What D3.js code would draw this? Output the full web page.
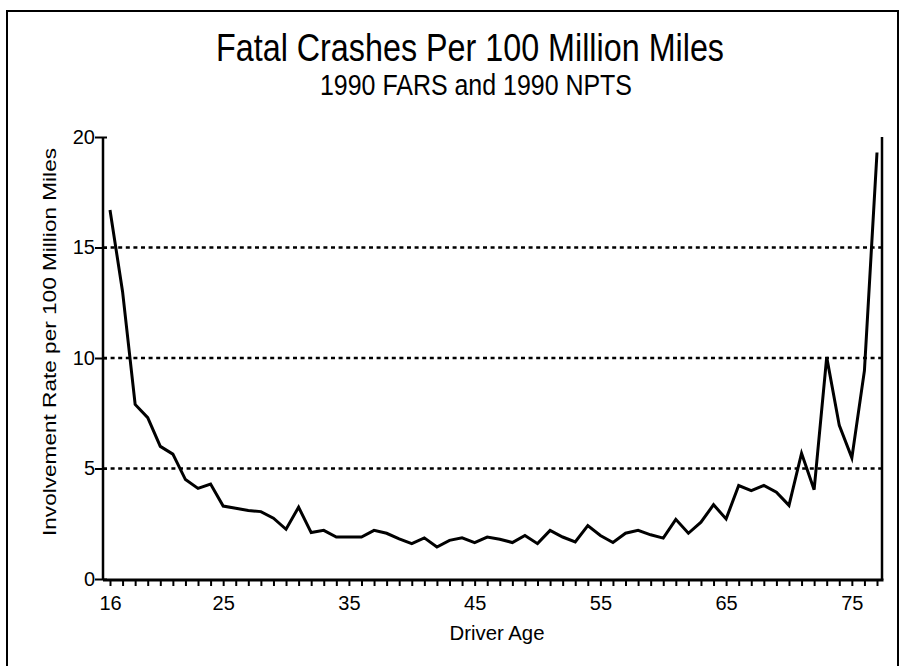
<!DOCTYPE html>
<html>
<head>
<meta charset="utf-8">
<script src="https://cdn.jsdelivr.net/npm/d3@7"></script>
<style>
  body { margin: 0; background: #fff; }
  svg { display: block; font-family: "Liberation Sans", Arial, sans-serif; }
  .axis path, .axis line { stroke: #000; }
  .axis text { fill: #000; font-size: 20px; }
</style>
</head>
<body>
<script>
// data
var ages = [16, 17, 18, 19, 20, 21, 22, 23, 24, 25, 26, 27, 28, 29, 30, 31, 32, 33, 34, 35,
            36, 37, 38, 39, 40, 41, 42, 43, 44, 45, 46, 47, 48, 49, 50, 51, 52, 53, 54, 55,
            56, 57, 58, 59, 60, 61, 62, 63, 64, 65, 66, 67, 68, 69, 70, 71, 72, 73, 74, 75,
            76, 77];
var rates = [16.7, 13.0, 7.9, 7.3, 6.0, 5.65, 4.5, 4.1, 4.3, 3.3, 3.2, 3.1, 3.05, 2.75, 2.25, 3.25, 2.1, 2.2, 1.9, 1.9,
             1.9, 2.2, 2.07, 1.82, 1.6, 1.86, 1.45, 1.75, 1.86, 1.65, 1.9, 1.8, 1.65, 1.97, 1.6, 2.2, 1.9, 1.68, 2.42, 1.97,
             1.65, 2.07, 2.2, 2.0, 1.85, 2.7, 2.07, 2.57, 3.36, 2.72, 4.23, 4.0, 4.23, 3.93, 3.33, 5.69, 4.04, 10.04, 6.95, 5.48,
             9.43, 19.3];
var xTickLabels = [16, 25, 35, 45, 55, 65, 75];
var yTicks = [0, 5, 10, 15, 20];
var gridLines = [5, 10, 15];

var title = "Fatal Crashes Per 100 Million Miles";
var subtitle = "1990 FARS and 1990 NPTS";
var xTitle = "Driver Age";
var yTitle = "Involvement Rate per 100 Million Miles";

var dataset = ages.map(function(a, i) { return { age: a, rate: rates[i] }; });

var W = 905, H = 666;
var plot = { left: 103, right: 882, top: 137, bottom: 580 };

var svg = d3.select("body").append("svg")
    .attr("width", W)
    .attr("height", H);

// outer frame
svg.append("rect")
    .attr("x", 7).attr("y", 11)
    .attr("width", 891).attr("height", 700)
    .attr("fill", "none")
    .attr("stroke", "#000")
    .attr("stroke-width", 2);

// scales
var xScale = d3.scaleLinear()
    .domain([16, 77])
    .range([110, 877]);

var yScale = d3.scaleLinear()
    .domain([0, 20])
    .range([579, 137]);

// titles
svg.append("text")
    .attr("x", 470).attr("y", 61)
    .attr("text-anchor", "middle")
    .attr("font-size", 38)
    .attr("textLength", 508)
    .attr("lengthAdjust", "spacingAndGlyphs")
    .text(title);

svg.append("text")
    .attr("x", 476).attr("y", 95)
    .attr("text-anchor", "middle")
    .attr("font-size", 29)
    .attr("textLength", 312)
    .attr("lengthAdjust", "spacingAndGlyphs")
    .text(subtitle);

// dashed grid lines
svg.selectAll(".grid")
    .data(gridLines)
  .enter().append("line")
    .attr("class", "grid")
    .attr("x1", plot.left).attr("x2", plot.right)
    .attr("y1", function(d) { return yScale(d); })
    .attr("y2", function(d) { return yScale(d); })
    .attr("stroke", "#000")
    .attr("stroke-width", 2.5)
    .attr("stroke-dasharray", "4,3.6");

// x axis, a tick every year, labels only on some
var xAxis = svg.append("g")
    .attr("class", "x axis")
    .attr("transform", "translate(0," + plot.bottom + ")")
    .call(d3.axisBottom(xScale)
        .tickValues(ages)
        .tickSize(6)
        .tickPadding(10)
        .tickFormat(function(d) { return xTickLabels.indexOf(d) >= 0 ? d : ""; }));
xAxis.select(".domain").remove();
xAxis.selectAll(".tick line").attr("stroke-width", 2);

svg.append("line")
    .attr("x1", plot.left).attr("x2", plot.right + 1.5)
    .attr("y1", plot.bottom).attr("y2", plot.bottom)
    .attr("stroke", "#000")
    .attr("stroke-width", 3);

// y axis
var yAxis = svg.append("g")
    .attr("class", "y axis")
    .attr("transform", "translate(" + plot.left + ",0)")
    .call(d3.axisLeft(yScale)
        .tickValues(yTicks)
        .tickSize(8)
        .tickPadding(0));
yAxis.select(".domain").remove();
yAxis.selectAll(".tick line").attr("x1", 4).attr("stroke-width", 2);

svg.append("line")
    .attr("x1", plot.left).attr("x2", plot.left)
    .attr("y1", plot.top).attr("y2", plot.bottom)
    .attr("stroke", "#000")
    .attr("stroke-width", 2.5);

svg.append("line")
    .attr("x1", plot.right).attr("x2", plot.right)
    .attr("y1", plot.top).attr("y2", plot.bottom)
    .attr("stroke", "#000")
    .attr("stroke-width", 2.5);

// axis titles
svg.append("text")
    .attr("x", 497).attr("y", 640)
    .attr("text-anchor", "middle")
    .attr("font-size", 20)
    .attr("textLength", 95)
    .attr("lengthAdjust", "spacingAndGlyphs")
    .text(xTitle);

svg.append("text")
    .attr("transform", "translate(56,342) rotate(-90)")
    .attr("text-anchor", "middle")
    .attr("font-size", 19)
    .attr("textLength", 388)
    .attr("lengthAdjust", "spacingAndGlyphs")
    .text(yTitle);

// the rate line
var line = d3.line()
    .x(function(d) { return xScale(d.age); })
    .y(function(d) { return yScale(d.rate); });

svg.append("path")
    .datum(dataset)
    .attr("fill", "none")
    .attr("stroke", "#000")
    .attr("stroke-width", 3)
    .attr("stroke-linejoin", "miter")
    .attr("d", line);
</script>
</body>
</html>
